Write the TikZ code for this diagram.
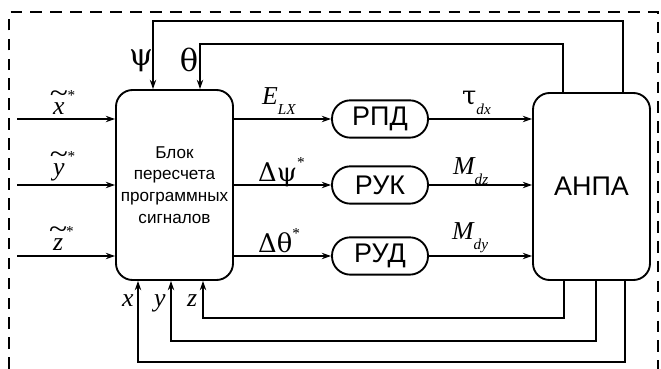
\documentclass[tikz,border=0pt]{standalone}
\usepackage{fontspec}
\setmainfont{Liberation Sans}
\newfontfamily\tnr{Liberation Serif}
\newfontfamily\grk{DejaVu Serif}
\usetikzlibrary{arrows.meta,positioning,calc}

\newcommand{\sbs}[1]{\raisebox{-8.5pt}{\fontsize{13}{13}\selectfont\tnr\itshape #1}}
\newcommand{\tld}[1]{\ooalign{#1\cr\hidewidth\raisebox{0.5em}{\upshape\scalebox{1.3}[1.1]{\char"7E}}\hidewidth\cr}}
\newcommand{\str}{\raisebox{0.55em}{\fontsize{13}{13}\selectfont\upshape *}}

\tikzset{
  blockbox/.style={rectangle,rounded corners=0.5cm,draw,line width=1.6pt,
                   minimum width=3.51cm,minimum height=#1,align=center,inner sep=1pt},
  blockbox/.default=5.7cm,
  regbox/.style={rectangle,rounded corners=0.55cm,draw,line width=1.6pt,
                 minimum width=2.88cm,minimum height=1.12cm,
                 font=\fontsize{23}{23}\selectfont},
  sig/.style={-{Stealth[length=8pt,width=5.5pt]},line width=1.1pt},
  lbl/.style={inner sep=0pt,anchor=base west,font=\fontsize{22}{22}\selectfont\tnr\itshape},
  greek/.style={inner sep=0pt,font=\fontsize{#1}{#1}\selectfont\grk},
  frame/.style={line width=1.6pt,dash pattern=on 10pt off 7pt},
}

\begin{document}
\begin{tikzpicture}[x=0.03cm,y=-0.03cm]
    \useasboundingbox (0,0) rectangle (661,369);

    \node[blockbox,font=\fontsize{14.6}{18.5}\selectfont]
         (blk) at (174.5,185) {Блок\\пересчета\\программных\\сигналов};
    \node[blockbox=5.61cm,font=\fontsize{23}{23}\selectfont]
         (anpa) at (591.5,186.5) {АНПА};

    \node[regbox] (rpd) at (380,119) {РПД};
    \node[regbox] (ruk) at (380,185) {РУК};
    \node[regbox] (rud) at (380,256) {РУД};

    % inputs
    \coordinate (xin) at (17,119);
    \coordinate (yin) at (17,185);
    \coordinate (zin) at (17,256);
    \draw[sig] (xin) -- (xin -| blk.west);
    \draw[sig] (yin) -- (yin -| blk.west);
    \draw[sig] (zin) -- (zin -| blk.west);

    \node[lbl] (xs) at (53,115) {\tld{x}\kern2.5pt\str};
    \node[lbl] (ys) at (53,176) {\tld{y}\kern2.5pt\str};
    \node[lbl] (zs) at (53,251) {\tld{z}\kern2.5pt\str};

    % regulators
    \draw[sig] (blk.east |- rpd) -- (rpd);
    \draw[sig] (blk.east |- ruk) -- (ruk);
    \draw[sig] (blk.east |- rud) -- (rud);
    \draw[sig] (rpd) -- (rpd -| anpa.west);
    \draw[sig] (ruk) -- (ruk -| anpa.west);
    \draw[sig] (rud) -- (rud -| anpa.west);

    \node[lbl] (elx) at (262,105) {E\sbs{LX}};
    \node[lbl] (dpsi) at (258,182) {{\grk\upshape Δψ}\str};
    \node[lbl] (dth) at (258,253) {{\grk\upshape Δθ}\str};
    \node[lbl] (tdx) at (462,105) {{\grk\upshape τ}\sbs{dx}};
    \node[lbl] (mdz) at (453,175) {M\sbs{dz}};
    \node[lbl] (mdy) at (452,240) {M\sbs{dy}};

    % feedback: angles
    \coordinate (psR) at (623,21);
    \coordinate (psL) at (153,21);
    \coordinate (thR) at (563,44);
    \coordinate (thL) at (200,44);
    \draw[sig] (psR |- anpa.north) -- (psR) -- (psL) -- (psL |- blk.north);
    \draw[sig] (thR |- anpa.north) -- (thR) -- (thL) -- (thL |- blk.north);
    \node[greek=26] (psi) at (141,61) {ψ};
    \node[greek=26] (tht) at (189,60) {θ};

    % feedback: position
    \coordinate (zR) at (564,318);
    \coordinate (zL) at (203,318);
    \coordinate (yR) at (596,341);
    \coordinate (yL) at (171,341);
    \coordinate (xR) at (625,362);
    \coordinate (xL) at (138,362);
    \draw[sig] (zR |- anpa.south) -- (zR) -- (zL) -- (zL |- blk.south);
    \draw[sig] (yR |- anpa.south) -- (yR) -- (yL) -- (yL |- blk.south);
    \draw[sig] (xR |- anpa.south) -- (xR) -- (xL) -- (xL |- blk.south);
    \node[lbl] (xl) at (122,307) {x};
    \node[lbl] (yl) at (154,307) {y};
    \node[lbl] (zl) at (187,307) {z};

    \draw[frame] (9,369) -- (9,12) -- (658,12) -- (658,369);
\end{tikzpicture}
\end{document}
